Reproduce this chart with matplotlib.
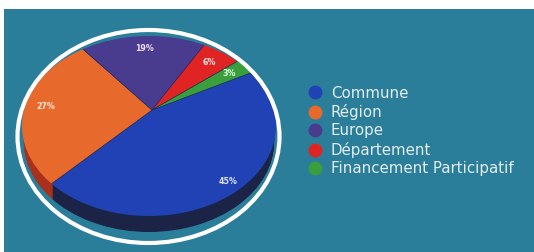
import matplotlib
matplotlib.use("Agg")
import matplotlib.pyplot as plt
from matplotlib.patches import Ellipse, Rectangle
from matplotlib.lines import Line2D
import numpy as np

labels = ["Commune", "Région", "Europe", "Département", "Financement Participatif"]
shares = [45, 27, 19, 6, 3]
pct_labels = ["45%", "27%", "19%", "6%", "3%"]

face_colors = ["#2142b4", "#e8692c", "#493c8e", "#e02424", "#3b9e3c"]
side_colors = ["#1b2447", "#a8301c", "#2c2458", "#8a1616", "#246024"]
label_colors = ["#dde6ff", "#ffe8d8", "#f4dcf4", "#ffe0e0", "#e0ffe0"]
label_radius = [1.0, 0.84, 0.69, 0.69, 0.73]
teal = "#2a7e99"

W, H = 534, 252
fig = plt.figure(figsize=(W / 100, H / 100), dpi=100, facecolor="white")
fig.patches.append(Rectangle((4 / W, 0), 1, 1 - 9 / H, transform=fig.transFigure,
                             facecolor=teal, edgecolor="none", zorder=-5))

# pie face spans x 22-276 px, y 36-216 px; axes extended downwards for the side
px_x, px_y = 127.0, 90.0
ax = fig.add_axes([22 / W, (H - 236) / H, 254 / W, 200 / H])
ax.set_zorder(2)

# tilted disc: the apex sits above the middle of the face ellipse
apex = (3 / px_x, 16 / px_y)
R = 1.35
start = 28
depth = 16 / px_y

for d in np.linspace(depth, 0.005, 24):
    clip = Ellipse((0, -d), 1.97, 2, transform=ax.transData)
    side, _ = ax.pie(shares, colors=side_colors, startangle=start, counterclock=False,
                     center=(apex[0], apex[1] - d), radius=R, frame=True,
                     wedgeprops=dict(linewidth=0))
    for w in side:
        w.set_clip_on(True)
        w.set_clip_path(clip)

face_clip = Ellipse((0, 0), 2, 2, transform=ax.transData)
wedges, texts, autotexts = ax.pie(
    shares, colors=face_colors, startangle=start, counterclock=False,
    center=apex, radius=R, autopct=lambda p: "", pctdistance=0.5, frame=True,
    wedgeprops=dict(linewidth=0.4, edgecolor="#1a2a60"))
for w in wedges:
    w.set_clip_on(True)
    w.set_clip_path(face_clip)

for w, t, s, c, r in zip(wedges, autotexts, pct_labels, label_colors, label_radius):
    mid = np.deg2rad((w.theta1 + w.theta2) / 2)
    t.set_position((apex[0] + r * np.cos(mid), apex[1] + r * np.sin(mid)))
    t.set_text(s)
    t.set_color(c)
    t.set_fontsize(5.7)
    t.set_fontweight("bold")

ax.set_xlim(-1, 1)
ax.set_ylim(1 - 200 / px_y, 1)
ax.set_aspect("auto")
ax.axis("off")

# white rim around the whole disc
ring = Ellipse((-0.5 / px_x, -10.5 / px_y), 262 / px_x, 213 / px_y,
               facecolor="none", edgecolor="white", linewidth=3.0, clip_on=False)
ax.add_patch(ring)

handles = [Line2D([], [], marker="o", linestyle="none", markersize=9,
                  markerfacecolor=c, markeredgecolor=c) for c in face_colors]
fig.legend(handles, labels, loc="upper left", bbox_to_anchor=(298 / W, 1 - 78 / H),
           frameon=False, labelcolor="#e4eef2", fontsize=10.8,
           handletextpad=0.5, labelspacing=0.23, handlelength=1.2, borderpad=0)

fig.savefig("out.png", dpi=100, facecolor="white")
